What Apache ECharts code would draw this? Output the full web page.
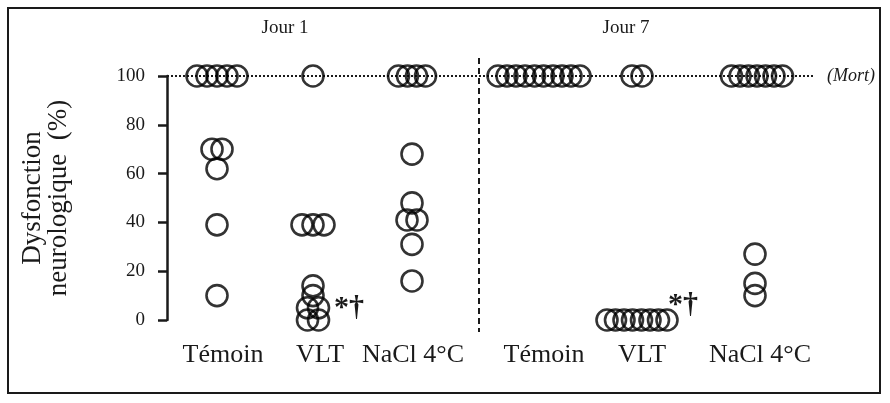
<!DOCTYPE html>
<html>
<head>
<meta charset="utf-8">
<script src="https://cdn.jsdelivr.net/npm/echarts@6.0.0/dist/echarts.min.js"></script>
<style>
  html, body { margin: 0; padding: 0; background: #fff; }
  #chart { width: 890px; height: 403px; }
</style>
</head>
<body>
<div id="chart"></div>
<script>
// groups along the x axis (Jour 1 then Jour 7)
var groups = ['Témoin', 'VLT', 'NaCl 4°C', 'Témoin', 'VLT', 'NaCl 4°C'];
var groupPos = [0.50, 1.46, 2.45, 3.72, 4.70, 5.90];
var labelPos = [0.56, 1.53, 2.46, 3.77, 4.75, 5.93];
var dayNames = ['Jour 1', 'Jour 7'];
var dayCenters = [1.18, 4.59];
var dividerPos = 3.12;

// neurological dysfunction (%) per animal
var temoinJ1 = [100, 100, 100, 100, 100, 70, 70, 62, 39, 10];
var vltJ1 = [100, 39, 39, 39, 14, 10, 5, 5, 0, 0];
var naclJ1 = [100, 100, 100, 100, 68, 48, 41, 41, 31, 16];
var temoinJ7 = [100, 100, 100, 100, 100, 100, 100, 100, 100, 100];
var vltJ7 = [100, 100, 0, 0, 0, 0, 0, 0, 0, 0];
var naclJ7 = [100, 100, 100, 100, 100, 100, 100, 27, 15, 10];

// horizontal spread of the overlapping circles, in axis units
var temoinJ1Jit = [-0.20, -0.10, 0, 0.10, 0.20, -0.05, 0.05, 0, 0, 0];
var vltJ1Jit = [0, -0.11, 0, 0.11, 0, 0, -0.055, 0.055, -0.055, 0.055];
var naclJ1Jit = [-0.135, -0.045, 0.045, 0.135, 0, 0, -0.05, 0.05, 0, 0];
var temoinJ7Jit = [-0.41, -0.32, -0.23, -0.14, -0.045, 0.045, 0.14, 0.23, 0.32, 0.41];
var vltJ7Jit = [-0.05, 0.05, -0.30, -0.215, -0.13, -0.045, 0.045, 0.13, 0.215, 0.30];
var naclJ7Jit = [-0.255, -0.17, -0.085, 0, 0.085, 0.17, 0.255, -0.02, -0.02, -0.02];

var allValues = [temoinJ1, vltJ1, naclJ1, temoinJ7, vltJ7, naclJ7];
var allJitter = [temoinJ1Jit, vltJ1Jit, naclJ1Jit, temoinJ7Jit, vltJ7Jit, naclJ7Jit];

// significance marks: [group index, x offset, y value]
var marks = [[1, 0.36, 5], [4, 0.46, 6]];

var serif = 'Liberation Serif';
var ink = '#1a1a1a';

var points = [];
allValues.forEach(function (vals, g) {
  vals.forEach(function (v, i) {
    points.push([groupPos[g] + allJitter[g][i], v]);
  });
});

var chart = echarts.init(document.getElementById('chart'));

var option = {
  animation: false,
  backgroundColor: '#fff',
  grid: { left: 167, right: 75, top: 76, bottom: 83 },
  xAxis: {
    type: 'value',
    min: 0,
    max: 6.48,
    axisLine: { show: false },
    axisTick: { show: false },
    splitLine: { show: false },
    axisLabel: {
      customValues: labelPos,
      margin: 22,
      fontFamily: serif,
      fontSize: 26,
      color: ink,
      formatter: function (v) {
        for (var i = 0; i < labelPos.length; i++) {
          if (Math.abs(labelPos[i] - v) < 1e-6) return groups[i];
        }
        return '';
      }
    }
  },
  yAxis: {
    type: 'value',
    min: 0,
    max: 100,
    interval: 20,
    name: 'Dysfonction\nneurologique  (%)',
    nameLocation: 'middle',
    nameRotate: 90,
    nameGap: 95,
    nameTextStyle: {
      fontFamily: serif,
      fontSize: 27,
      lineHeight: 26,
      color: ink
    },
    axisLine: { show: true, lineStyle: { color: ink, width: 2.5 } },
    axisTick: { show: true, length: 9, lineStyle: { color: ink, width: 2.5 } },
    splitLine: { show: false },
    axisLabel: {
      margin: 22,
      fontFamily: serif,
      fontSize: 19,
      color: ink
    }
  },
  series: [
    {
      type: 'scatter',
      data: points,
      symbol: 'circle',
      symbolSize: 21,
      z: 5,
      itemStyle: {
        color: 'rgba(0,0,0,0)',
        borderColor: '#000',
        borderWidth: 2.6
      },
      markLine: {
        silent: true,
        symbol: 'none',
        z: 2,
        lineStyle: { type: 'dotted', color: ink, width: 2 },
        label: {
          show: true,
          position: 'end',
          distance: 12,
          formatter: '(Mort)',
          fontFamily: serif,
          fontStyle: 'italic',
          fontSize: 18,
          color: ink
        },
        data: [{ yAxis: 100 }]
      }
    }
  ]
};

chart.setOption(option);

// decorations placed through the axes' scales
var graphics = [
  {
    type: 'rect',
    shape: { x: 8, y: 8, width: 872, height: 385 },
    style: { fill: 'none', stroke: ink, lineWidth: 2 }
  }
];

var divX = chart.convertToPixel({ gridIndex: 0 }, [dividerPos, 0])[0];
graphics.push({
  type: 'line',
  shape: { x1: divX, y1: 58, x2: divX, y2: 332 },
  style: { stroke: ink, lineWidth: 2, lineDash: [6, 4] }
});

dayNames.forEach(function (name, i) {
  var px = chart.convertToPixel({ gridIndex: 0 }, [dayCenters[i], 0])[0];
  graphics.push({
    type: 'text',
    x: px,
    y: 28,
    style: {
      text: name,
      fontFamily: serif,
      fontSize: 19,
      fill: ink,
      align: 'center',
      verticalAlign: 'middle'
    }
  });
});

marks.forEach(function (m) {
  var p = chart.convertToPixel({ gridIndex: 0 }, [groupPos[m[0]] + m[1], m[2]]);
  graphics.push({
    type: 'text',
    x: p[0],
    y: p[1],
    style: {
      text: '*†',
      fontFamily: serif,
      fontSize: 30,
      fontWeight: 'bold',
      fill: ink,
      align: 'center',
      verticalAlign: 'middle'
    }
  });
});

chart.setOption({ graphic: graphics });
</script>
</body>
</html>
